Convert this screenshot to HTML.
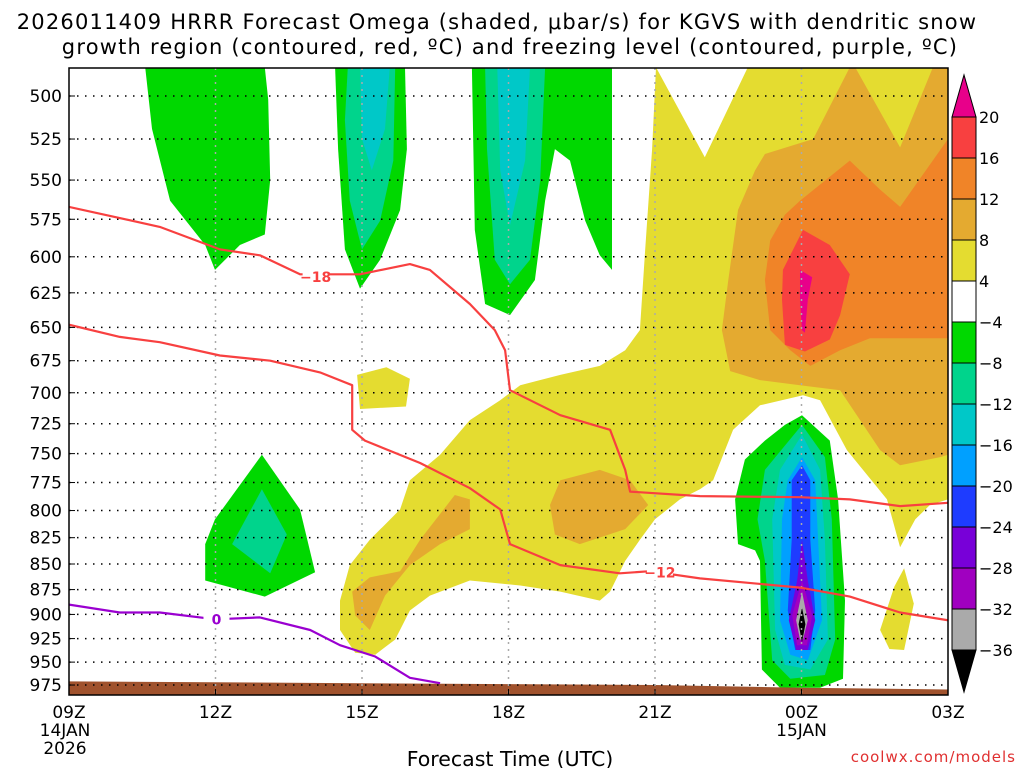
<!DOCTYPE html>
<html><head><meta charset="utf-8"><style>
html,body{margin:0;padding:0;background:#fff;}
svg{display:block;font-family:"DejaVu Sans","Liberation Sans",sans-serif;}
</style></head><body>
<svg id="chart" width="1024" height="768" viewBox="0 0 1024 768" xmlns="http://www.w3.org/2000/svg">
<text x="497" y="29" text-anchor="middle" font-size="21" letter-spacing="1.2">2026011409 HRRR Forecast Omega (shaded, μbar/s) for KGVS with dendritic snow</text>
<text x="510" y="54" text-anchor="middle" font-size="21" letter-spacing="1.2">growth region (contoured, red, ºC) and freezing level (contoured, purple, ºC)</text>
<g id="fills"></g>
<g id="grid"></g>
<g id="lines"></g>
<g id="axes"></g>
<g id="cbar"></g>
<text x="510" y="766" text-anchor="middle" font-size="20.5">Forecast Time (UTC)</text>
<text x="1016" y="762" text-anchor="end" font-size="15" fill="#e03030" letter-spacing="1">coolwx.com/models</text>
</svg>
<script>
// ---- data ----
const pressureLevels=[500,525,550,575,600,625,650,675,700,725,750,775,800,825,850,875,900,925,950,975];
const timeTicks=[0,3,6,9,12,15,18];
const timeLabels=["09Z","12Z","15Z","18Z","21Z","00Z","03Z"];
const cbarLabels=["20","16","12","8","4","\u22124","\u22128","\u221212","\u221216","\u221220","\u221224","\u221228","\u221232","\u221236"];
const cbarColors=["#f84040","#f08428","#e4aa30","#e4dc30","#ffffff","#00d800","#00d48c","#00c8c8","#00a0ff","#1e3cff","#7800d8","#a000c0","#aaaaaa"];
// contour regions: [hour since 09Z, hPa]
const yellowMain=[[12.02,484],[11.94,531],[11.8,595],[11.69,652],[11.39,667],[10.87,679],[10.06,686],[9.24,694],[8.83,706],[8.21,722],[7.6,751],[6.98,773],[6.78,799],[6.16,827],[5.75,851],[5.55,886],[5.55,916],[5.86,940],[6.27,942],[6.68,926],[6.98,896],[7.39,881],[8.21,866],[9.24,871],[10.06,877],[10.87,886],[11.08,877],[11.39,847],[11.69,827],[12,808],[12.51,790],[12.92,781],[13.19,773],[13.6,730],[14.15,710],[15.03,702],[15.38,706],[15.93,747],[16.75,790],[17.02,834],[17.33,808],[17.63,795],[18,790],[18,484],[13.9,484],[13.02,536]];
const yellowSmall1=[[16.61,916],[16.9,872],[17.1,854],[17.3,889],[17.1,937],[16.8,936]];
const yellowSmall2=[[5.9,686],[6.5,680],[6.98,689],[6.9,711],[5.96,713]];
const tanMain=[[15.99,484],[15.24,525],[14.25,534],[14.05,544],[13.7,569],[13.5,616],[13.37,652],[13.54,683],[14.15,690],[14.97,694],[15.79,698],[16.2,722],[16.61,747],[17.02,760],[17.84,753],[18,751],[18,484],[17.69,484],[17.02,530],[16.1,484]];
const tanBlobA=[[10.06,773],[10.87,764],[11.49,773],[11.86,795],[11.39,817],[10.46,831],[9.95,822],[9.85,795]];
const tanBlobB=[[7.9,786],[8.21,790],[8.21,817],[7.6,831],[6.98,851],[6.47,881],[6.16,916],[5.86,901],[5.8,877],[6.16,863],[6.78,857],[7.19,827]];
const orangeMain=[[15.99,538],[14.97,563],[14.66,572],[14.36,589],[14.25,616],[14.36,652],[14.77,667],[15.18,679],[15.79,667],[16.4,658],[18,658],[18,525],[17.02,567],[16.61,556]];
const redMax=[[15.03,582],[15.58,592],[15.99,612],[15.79,641],[15.58,659],[15.07,668],[14.66,663],[14.6,630],[14.62,609]];
const magentaMax=[[14.97,609],[15.22,614],[15.13,630],[15.07,654],[15.01,652],[14.97,630]];
const g1=[[1.56,484],[4.01,484],[4.08,502],[4.12,550],[4.01,585],[3.5,592],[2.99,609],[2.79,592],[2.07,563],[1.7,519]];
const g2=[[5.45,484],[6.88,484],[6.92,531],[6.78,569],[6.37,602],[5.96,622],[5.65,595],[5.51,531]];
const g2teal=[[5.71,484],[6.68,484],[6.64,538],[6.37,576],[6.0,595],[5.75,563],[5.65,514]];
const g2cyan=[[5.96,484],[6.57,484],[6.47,519],[6.2,544],[6.0,525]];
const g3=[[8.25,484],[11.12,484],[11.12,609],[10.87,599],[10.57,576],[10.26,538],[9.95,531],[9.75,563],[9.54,616],[9.03,641],[8.52,633],[8.31,582]];
const g3teal=[[8.52,484],[9.75,484],[9.65,550],[9.44,602],[9.03,619],[8.72,602],[8.56,531]];
const g3cyan=[[8.77,484],[9.44,484],[9.34,538],[9.03,579],[8.83,544]];
const g4=[[2.79,831],[2.99,808],[3.95,751],[4.73,799],[5.04,858],[4.01,882],[2.79,866]];
const g4teal=[[3.34,831],[3.95,781],[4.46,822],[4.12,859]];
const b1=[[15.01,718],[15.58,739],[15.75,790],[15.89,886],[15.85,968],[15.38,978],[14.56,978],[14.19,958],[14.15,847],[14.05,837],[13.7,831],[13.64,790],[13.84,755],[14.25,739],[14.66,726]];
const b2=[[15.01,726],[15.48,753],[15.62,808],[15.69,926],[15.48,964],[14.77,968],[14.4,948],[14.25,847],[14.1,808],[14.25,764]];
const b3=[[15.01,734],[15.38,764],[15.48,827],[15.54,926],[15.18,958],[14.66,953],[14.46,916],[14.4,808],[14.56,764]];
const b4=[[15.01,753],[15.28,773],[15.34,827],[15.42,906],[15.13,948],[14.77,942],[14.56,906],[14.6,808],[14.72,773]];
const b5=[[15.01,760],[15.18,773],[15.18,827],[15.28,896],[15.18,937],[14.87,937],[14.72,896],[14.8,827],[14.8,773]];
const b6=[[15.01,827],[15.13,866],[15.28,906],[15.13,937],[14.89,937],[14.74,906],[14.91,866]];
const b7=[[15.01,866],[15.22,901],[15.11,932],[14.91,932],[14.81,901]];
const b8=[[15.01,877],[15.13,906],[15.03,926],[14.97,926],[14.89,906]];
const b9=[[15.01,893],[15.08,910],[15.01,929],[14.94,910]];
const terrain=[[0,971],[6,973],[12,975],[15,978],[18,980]];
const isoM18=[[0,567],[1.86,580],[3.09,595],[3.91,599],[4.73,612],[5.96,612],[6.98,605],[7.39,609],[8.21,633],[8.72,652],[8.93,667],[9.03,698],[10.06,718],[11.08,730],[11.39,764],[11.49,783],[12.92,787],[14.97,788],[15.99,790],[17.02,796],[18,793]];
const isoM12=[[0,648],[1.04,657],[1.86,661],[3.09,671],[4.12,675],[5.14,684],[5.8,694],[5.8,730],[6.06,739],[7.19,758],[8.21,780],[8.83,799],[9.03,831],[10.06,851],[11.28,859],[11.9,857],[12.92,864],[14.97,873],[15.99,882],[17.02,898],[18,906]];
const iso0=[[0,890],[1.04,898],[1.86,898],[3,905],[3.91,903],[4.94,916],[5.55,932],[6.27,944],[6.98,967],[7.6,973]];

// ---- axes ----
const X0=69,X1=948,Y0=68,Y1=695;
const xS=h=>X0+h*(X1-X0)/18;
const yS=p=>96+882*Math.log(p/500);
const NS="http://www.w3.org/2000/svg";
function mk(tag,attrs,parent){const e=document.createElementNS(NS,tag);for(const k in attrs)e.setAttribute(k,attrs[k]);parent.appendChild(e);return e;}
function pts(a){return a.map(d=>xS(d[0]).toFixed(1)+","+yS(d[1]).toFixed(1)).join(" ");}
const fills=document.getElementById("fills");
const grid=document.getElementById("grid");
const lines=document.getElementById("lines");
const axes=document.getElementById("axes");
const cbar=document.getElementById("cbar");

function poly(a,color,name){
  const e=mk("polygon",{points:pts(a),fill:color},fills);
  
  
}
const clip=mk("clipPath",{id:"pc"},mk("defs",{},document.getElementById("chart")));
mk("rect",{x:X0,y:Y0,width:X1-X0,height:Y1-Y0},clip);
fills.setAttribute("clip-path","url(#pc)");
lines.setAttribute("clip-path","url(#pc)");

poly(yellowMain,"#e4dc30","fill-4-8-main");
poly(yellowSmall1,"#e4dc30","fill-4-8-small-east");
poly(yellowSmall2,"#e4dc30","fill-4-8-small-west");
poly(tanMain,"#e4aa30","fill-8-12-main");
poly(tanBlobA,"#e4aa30","fill-8-12-blob-a");
poly(tanBlobB,"#e4aa30","fill-8-12-blob-b");
poly(orangeMain,"#f08428","fill-12-16");
poly(redMax,"#f84040","fill-16-20");
poly(magentaMax,"#e8008a","fill-above-20");
poly(g1,"#00d800","fill-neg4-green-1");
poly(g2,"#00d800","fill-neg4-green-2");
poly(g2teal,"#00d48c","fill-neg8-teal-2");
poly(g2cyan,"#00c8c8","fill-neg12-cyan-2");
poly(g3,"#00d800","fill-neg4-green-3");
poly(g3teal,"#00d48c","fill-neg8-teal-3");
poly(g3cyan,"#00c8c8","fill-neg12-cyan-3");
poly(g4,"#00d800","fill-neg4-green-4");
poly(g4teal,"#00d48c","fill-neg8-teal-4");
poly(b1,"#00d800","fill-blob-neg4");
poly(b2,"#00d48c","fill-blob-neg8");
poly(b3,"#00c8c8","fill-blob-neg12");
poly(b4,"#00a0ff","fill-blob-neg16");
poly(b5,"#1e3cff","fill-blob-neg20");
poly(b6,"#7800d8","fill-blob-neg24");
poly(b7,"#a000c0","fill-blob-neg28");
poly(b8,"#aaaaaa","fill-blob-neg32");
poly(b9,"#000000","fill-blob-neg36");
{
  const t=terrain.concat([[18,1000],[0,1000]]);
  const e=mk("polygon",{points:pts(t),fill:"#a0522d"},fills);
  
  
}
// grid
pressureLevels.forEach(p=>{
  const e=mk("line",{x1:X0,x2:X1,y1:yS(p),y2:yS(p),stroke:"#000","stroke-width":1.5,"stroke-dasharray":"1.5 6.5"},grid);
  
  
});
timeTicks.slice(1,-1).forEach(h=>{
  const e=mk("line",{x1:xS(h),x2:xS(h),y1:Y0,y2:Y1,stroke:"#aaa","stroke-width":1.5,"stroke-dasharray":"2 5"},grid);
  
  
});
// contour lines
function pl(a,color,name){
  const e=mk("polyline",{points:pts(a),fill:"none",stroke:color,"stroke-width":2.2,"stroke-linejoin":"round"},lines);
  
  
}
pl(isoM18,"#f84040","isotherm-minus18");
pl(isoM12,"#f84040","isotherm-minus12");
pl(iso0,"#9a00d0","freezing-level-0");
function lbl(h,p,txt,color,name){
  const x=xS(h),y=yS(p);
  const r=mk("rect",{x:x-13,y:y-8,width:26,height:16,fill:"#fff"},lines);
  
  
  const t=mk("text",{x:x,y:y+5,"text-anchor":"middle","font-size":14,"font-weight":"bold",fill:color},lines);
  t.textContent=txt;
  
  
}
lbl(5.05,614,"\u221218","#f84040","isotherm-label-minus18");
lbl(12.1,858,"\u221212","#f84040","isotherm-label-minus12");
lbl(3.02,905,"0","#9a00d0","freezing-label-0");
// frame & axes
{
  const f=mk("rect",{x:X0,y:Y0,width:X1-X0,height:Y1-Y0,fill:"none",stroke:"#000","stroke-width":1.5},axes);
  
  
}
pressureLevels.forEach(p=>{
  const t=mk("text",{x:62,y:yS(p)+6,"text-anchor":"end","font-size":17},axes);
  t.textContent=p;
  
  
  const k=mk("line",{x1:X0,x2:X0+6,y1:yS(p),y2:yS(p),stroke:"#000","stroke-width":1},axes);
  
  
});
timeTicks.forEach((h,i)=>{
  const t=mk("text",{x:xS(h),y:718,"text-anchor":"middle","font-size":17},axes);
  t.textContent=timeLabels[i];
  
  
  const k=mk("line",{x1:xS(h),x2:xS(h),y1:Y1,y2:Y1-6,stroke:"#000","stroke-width":1},axes);
  
  
});
[[xS(0)-4,736,"14JAN","date-label-14jan"],[xS(0)-4,754,"2026","year-label"],[xS(15),736,"15JAN","date-label-15jan"]].forEach(d=>{
  const t=mk("text",{x:d[0],y:d[1],"text-anchor":"middle","font-size":17},axes);
  t.textContent=d[2];
  
  
});
// colorbar
const CBX=952,CBW=24,CBT=117,CBS=41;
cbarColors.forEach((c,i)=>{
  const r=mk("rect",{x:CBX,y:CBT+i*CBS,width:CBW,height:CBS,fill:c,stroke:"#000","stroke-width":1},cbar);
  
  
});
{
  const a=mk("polygon",{points:`${CBX},${CBT} ${CBX+CBW},${CBT} ${CBX+CBW/2},75`,fill:"#e8008a",stroke:"#000"},cbar);
  
  
  const yb=CBT+cbarColors.length*CBS;
  const b=mk("polygon",{points:`${CBX},${yb} ${CBX+CBW},${yb} ${CBX+CBW/2},692`,fill:"#000",stroke:"#000"},cbar);
  
  
}
cbarLabels.forEach((s,i)=>{
  const t=mk("text",{x:979,y:CBT+i*CBS+6,"font-size":16},cbar);
  t.textContent=s;
  
  
});
</script>
</body></html>
